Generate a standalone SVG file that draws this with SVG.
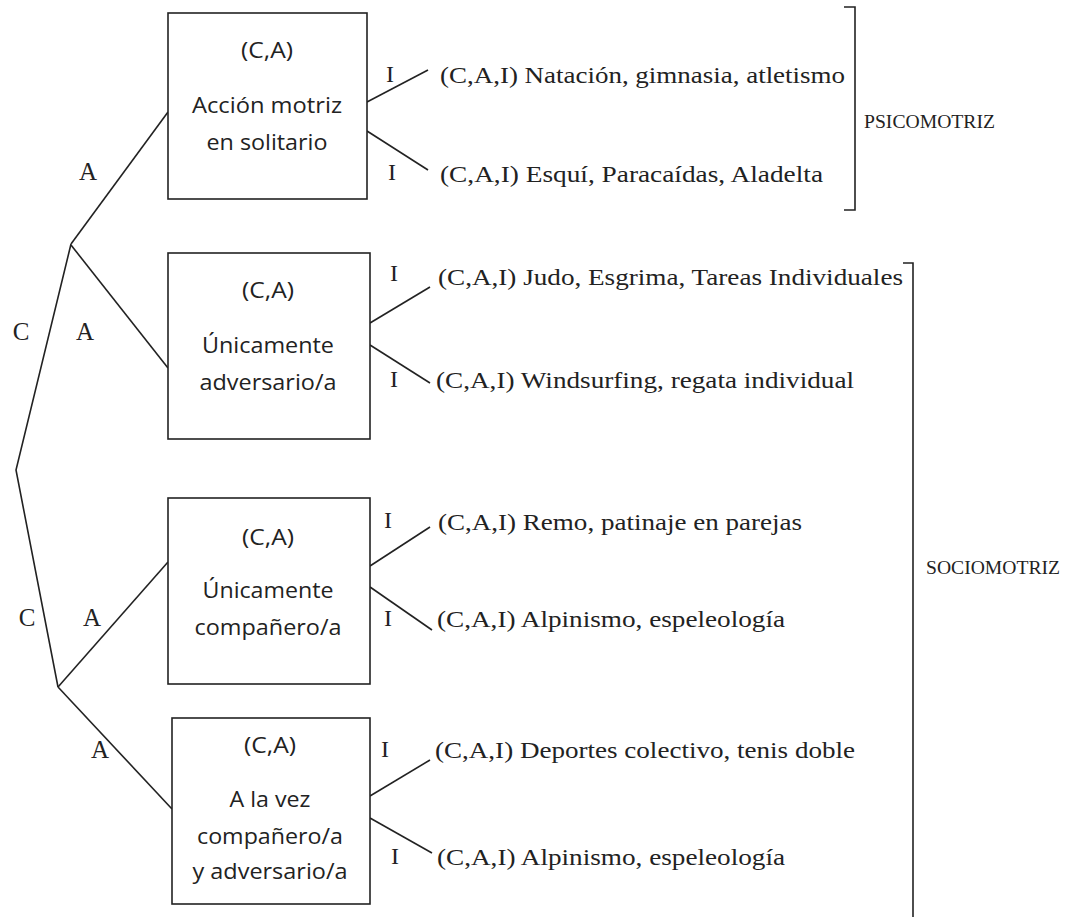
<svg xmlns="http://www.w3.org/2000/svg" width="1067" height="917" viewBox="0 0 1067 917">
<style>
.box{fill:#fff;stroke:#222;stroke-width:1.6}
.ln{fill:none;stroke:#222;stroke-width:1.6}
.sans{font-family:"Open Sans","Liberation Sans",sans-serif;font-size:21px;fill:#222;text-anchor:middle}
.ser{font-family:"Liberation Serif","Times New Roman",serif;font-size:24px;fill:#222}
.lab{font-family:"Liberation Serif","Times New Roman",serif;font-size:25px;fill:#222;text-anchor:middle}
.cat{font-family:"Liberation Serif","Times New Roman",serif;font-size:19px;fill:#222}
</style>
<rect width="1067" height="917" fill="#fff"/>
<g id="connectors" class="ln">
<polyline points="71,244 16,470 58,687"/>
<line x1="71" y1="244" x2="168" y2="112"/>
<line x1="71" y1="245" x2="168" y2="368"/>
<line x1="58" y1="687" x2="168" y2="562"/>
<line x1="58" y1="687" x2="172" y2="809"/>
<line x1="367" y1="102" x2="428" y2="70"/>
<line x1="367" y1="131" x2="428" y2="170"/>
<line x1="370" y1="323" x2="430" y2="287"/>
<line x1="370" y1="345" x2="430" y2="383"/>
<line x1="370" y1="566" x2="430" y2="527"/>
<line x1="370" y1="587" x2="432" y2="630"/>
<line x1="370" y1="796" x2="430" y2="760"/>
<line x1="370" y1="818" x2="432" y2="853"/>
<path d="M844,7 H855 V210 H844"/>
<path d="M903,263 H913 V917"/>
</g>
<g id="labels">
<text class="lab" x="88" y="180">A</text>
<text class="lab" x="21" y="340">C</text>
<text class="lab" x="85" y="340">A</text>
<text class="lab" x="27" y="626">C</text>
<text class="lab" x="92" y="626">A</text>
<text class="lab" x="100" y="758">A</text>
<text class="ser" x="390" y="82" text-anchor="middle">I</text>
<text class="ser" x="392" y="180" text-anchor="middle">I</text>
<text class="ser" x="394" y="281" text-anchor="middle">I</text>
<text class="ser" x="394" y="387" text-anchor="middle">I</text>
<text class="ser" x="388" y="528" text-anchor="middle">I</text>
<text class="ser" x="388" y="626" text-anchor="middle">I</text>
<text class="ser" x="385" y="757" text-anchor="middle">I</text>
<text class="ser" x="395" y="864" text-anchor="middle">I</text>
</g>
<g id="node-solitario">
<rect class="box" x="168" y="13" width="199" height="186"/>
<text class="sans" x="267" y="58" textLength="52" lengthAdjust="spacingAndGlyphs">(C,A)</text>
<text class="sans" x="267" y="113" textLength="150" lengthAdjust="spacingAndGlyphs">Acción motriz</text>
<text class="sans" x="267" y="150" textLength="121" lengthAdjust="spacingAndGlyphs">en solitario</text>
</g>
<g id="node-adversario">
<rect class="box" x="168" y="253" width="202" height="186"/>
<text class="sans" x="268" y="298" textLength="52" lengthAdjust="spacingAndGlyphs">(C,A)</text>
<text class="sans" x="268" y="353" textLength="132" lengthAdjust="spacingAndGlyphs">Únicamente</text>
<text class="sans" x="268" y="390" textLength="137" lengthAdjust="spacingAndGlyphs">adversario/a</text>
</g>
<g id="node-companero">
<rect class="box" x="168" y="498" width="202" height="186"/>
<text class="sans" x="268" y="545" textLength="52" lengthAdjust="spacingAndGlyphs">(C,A)</text>
<text class="sans" x="268" y="598" textLength="131" lengthAdjust="spacingAndGlyphs">Únicamente</text>
<text class="sans" x="268" y="635" textLength="147" lengthAdjust="spacingAndGlyphs">compañero/a</text>
</g>
<g id="node-ambos">
<rect class="box" x="172" y="718" width="198" height="186"/>
<text class="sans" x="270" y="753" textLength="52" lengthAdjust="spacingAndGlyphs">(C,A)</text>
<text class="sans" x="270" y="807" textLength="81" lengthAdjust="spacingAndGlyphs">A la vez</text>
<text class="sans" x="270" y="844" textLength="146" lengthAdjust="spacingAndGlyphs">compañero/a</text>
<text class="sans" x="270" y="879" textLength="155" lengthAdjust="spacingAndGlyphs">y adversario/a</text>
</g>
<g id="leaf-1"><text class="ser" x="440" y="83" textLength="405" lengthAdjust="spacingAndGlyphs">(C,A,I) Natación, gimnasia, atletismo</text></g>
<g id="leaf-2"><text class="ser" x="440" y="182" textLength="383" lengthAdjust="spacingAndGlyphs">(C,A,I) Esquí, Paracaídas, Aladelta</text></g>
<g id="leaf-3"><text class="ser" x="438" y="285" textLength="465" lengthAdjust="spacingAndGlyphs">(C,A,I) Judo, Esgrima, Tareas Individuales</text></g>
<g id="leaf-4"><text class="ser" x="436" y="388" textLength="418" lengthAdjust="spacingAndGlyphs">(C,A,I) Windsurfing, regata individual</text></g>
<g id="leaf-5"><text class="ser" x="438" y="530" textLength="364" lengthAdjust="spacingAndGlyphs">(C,A,I) Remo, patinaje en parejas</text></g>
<g id="leaf-6"><text class="ser" x="437" y="627" textLength="348" lengthAdjust="spacingAndGlyphs">(C,A,I) Alpinismo, espeleología</text></g>
<g id="leaf-7"><text class="ser" x="435" y="758" textLength="420" lengthAdjust="spacingAndGlyphs">(C,A,I) Deportes colectivo, tenis doble</text></g>
<g id="leaf-8"><text class="ser" x="437" y="865" textLength="348" lengthAdjust="spacingAndGlyphs">(C,A,I) Alpinismo, espeleología</text></g>
<g id="group-psicomotriz"><text class="cat" x="864" y="128" textLength="131" lengthAdjust="spacingAndGlyphs">PSICOMOTRIZ</text></g>
<g id="group-sociomotriz"><text class="cat" x="926" y="574" textLength="134" lengthAdjust="spacingAndGlyphs">SOCIOMOTRIZ</text></g>
</svg>
